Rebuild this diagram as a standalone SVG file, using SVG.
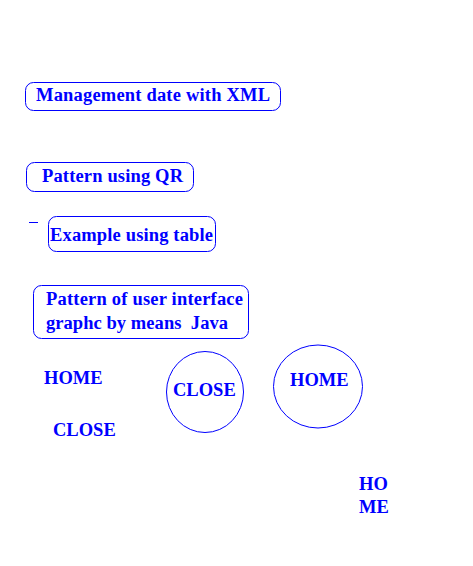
<svg xmlns="http://www.w3.org/2000/svg" width="473" height="566" viewBox="0 0 473 566">
<style>
.t{font-family:"Liberation Serif","Times New Roman",serif;font-weight:bold;font-size:18.5px;fill:#0000ff}
.b{fill:none;stroke:#0000ff;stroke-width:1}
</style>
<rect width="473" height="566" fill="#fff"/>
<g id="n1"><rect class="b" x="25.5" y="82.5" width="255" height="28" rx="8"/><text class="t" x="36" y="101" textLength="234">Management date with XML</text></g>
<g id="n2"><rect class="b" x="26.5" y="162.5" width="167" height="29" rx="8"/><text class="t" x="42" y="182" textLength="141">Pattern using QR</text></g>
<g id="dash"><line class="b" x1="29" y1="222.5" x2="38" y2="222.5"/></g>
<g id="n3"><rect class="b" x="48.5" y="216.5" width="167" height="35" rx="8"/><text class="t" x="50" y="241" textLength="163">Example using table</text></g>
<g id="n4"><rect class="b" x="33.5" y="285.5" width="215" height="53" rx="8"/><text class="t" x="46" y="305" textLength="197">Pattern of user interface</text><text class="t" x="46" y="329" xml:space="preserve" textLength="182">graphc by means  Java</text></g>
<g id="n5"><text class="t" x="44" y="384">HOME</text></g>
<g id="n6"><text class="t" x="53" y="436">CLOSE</text></g>
<g id="n7"><ellipse class="b" cx="205" cy="392" rx="38.5" ry="40.5"/><text class="t" x="173" y="396">CLOSE</text></g>
<g id="n8"><ellipse class="b" cx="318" cy="386.5" rx="44.5" ry="41.5"/><text class="t" x="290" y="386">HOME</text></g>
<g id="n9"><text class="t" x="359" y="490">HO</text><text class="t" x="359" y="513">ME</text></g>
<g id="connectors"></g>
</svg>
